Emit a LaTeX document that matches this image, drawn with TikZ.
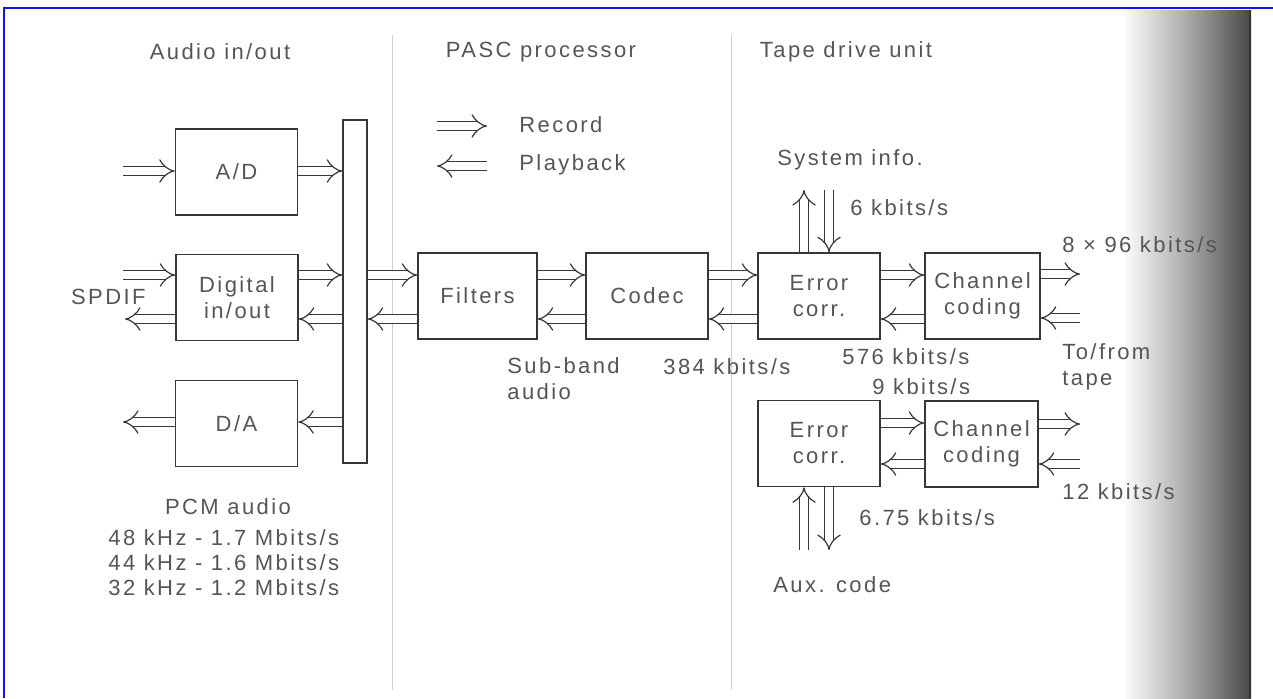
\documentclass[tikz,border=0pt]{standalone}
\usepackage{fontspec}
\setmainfont{Liberation Sans}[LetterSpace=11]
\usetikzlibrary{arrows.meta,positioning,calc}
\definecolor{InkGray}{RGB}{55,55,55}
\definecolor{TextGray}{RGB}{85,85,85}
\definecolor{RuleGray}{RGB}{205,205,205}
\definecolor{FrameBlue}{RGB}{20,20,235}
\tikzset{
  blk/.style={draw=InkGray,line width=0.8pt,minimum width=61pt,minimum height=43pt,
              align=center,text=TextGray,inner sep=1pt},
  busbar/.style={draw=InkGray,line width=0.8pt,minimum width=12pt,minimum height=171.5pt,
              inner sep=0pt},
  fat/.style={draw=InkGray,double=white,double distance=3.6pt,line width=0.6pt,
              -{Implies[length=4.5pt]}},
  lbl/.style={text=TextGray,inner sep=0pt,anchor=west,align=left},
  hdr/.style={text=TextGray,inner sep=0pt},
}

\begin{document}
\begin{tikzpicture}[x=0.5pt,y=-0.5pt,font=\fontsize{11}{13}\selectfont]
  \useasboundingbox (0,0) rectangle (1273,698);
  % page edge and frame
  \shade[left color=white,right color=black!72,middle color=black!33] (1122,10) rectangle (1251,698);
  \draw[black!80,line width=0.8pt] (1250,10) -- (1250,698);
  \draw[FrameBlue,line width=1.2pt] (4,698) -- (4,8) -- (1273,8);
  % section rules
  \draw[RuleGray,line width=0.5pt] (392,35) -- (392,690);
  \draw[RuleGray,line width=0.5pt] (731,35) -- (731,690);

  % headings
  \node[hdr] (hAudio) at (220,52) {Audio in/out};
  \node[hdr] (hPasc) at (541,52) {PASC processor};
  \node[hdr] (hTape) at (846,52) {Tape drive unit};

  % legend
  \coordinate (legA) at (437,126);
  \coordinate (legB) at (487,126);
  \coordinate (legC) at (437,166);
  \coordinate (legD) at (487,166);
  \draw[fat] (legA) -- (legB);
  \draw[fat] (legD) -- (legC);
  \node[lbl] (rec) at (519,125) {Record};
  \node[lbl] (play) at (519,165) {Playback};

  % blocks
  \node[blk] (ad) at (236.5,172) {A/D};
  \node[blk] (dio) at (237,297.5) {Digital\\in/out};
  \node[blk] (da) at (236.5,423.5) {D/A};
  \node[busbar] (bus) at (355,291.5) {};
  \node[blk,minimum width=59.5pt] (filt) at (477.5,296) {Filters};
  \node[blk] (codec) at (647,296) {Codec};
  \node[blk] (ec1) at (819,296) {Error\\corr.};
  \node[blk,minimum width=57.5pt] (cc1) at (982.5,296) {Channel\\coding};
  \node[blk] (ec2) at (819,443.5) {Error\\corr.};
  \node[blk,minimum width=56.5pt] (cc2) at (981.5,444) {Channel\\coding};

  % rows
  \coordinate (rF) at (0,275);
  \coordinate (rB) at (0,319);
  \coordinate (rF2) at (0,423);
  \coordinate (rB2) at (0,464);

  % free ends
  \coordinate (adin) at (123,171);
  \coordinate (dioin) at (123,275);
  \coordinate (dioout) at (125,319);
  \coordinate (daout) at (123,422);
  \coordinate (tape1) at (1080,274);
  \coordinate (tape2) at (1080,318);
  \coordinate (tape3) at (1080,424);
  \coordinate (tape4) at (1080,464);
  \coordinate (sysup) at (804,190);
  \coordinate (sysdn) at (829,190);
  \coordinate (auxup) at (804,550);
  \coordinate (auxdn) at (829,550);

  % audio in/out
  \draw[fat] (adin) -- (ad.west |- adin);
  \draw[fat] (ad.east |- adin) -- (bus.west |- adin);
  \draw[fat] (dioin) -- (dio.west |- dioin);
  \draw[fat] (dio.west |- dioout) -- (dioout);
  \draw[fat] (dio.east |- rF) -- (bus.west |- rF);
  \draw[fat] (bus.west |- rB) -- (dio.east |- rB);
  \draw[fat] (bus.west |- daout) -- (da.east |- daout);
  \draw[fat] (da.west |- daout) -- (daout);

  % PASC chain
  \draw[fat] (bus.east |- rF) -- (filt.west |- rF);
  \draw[fat] (filt.west |- rB) -- (bus.east |- rB);
  \draw[fat] (filt.east |- rF) -- (codec.west |- rF);
  \draw[fat] (codec.west |- rB) -- (filt.east |- rB);
  \draw[fat] (codec.east |- rF) -- (ec1.west |- rF);
  \draw[fat] (ec1.west |- rB) -- (codec.east |- rB);

  % tape drive
  \draw[fat] (ec1.east |- rF) -- (cc1.west |- rF);
  \draw[fat] (cc1.west |- rB) -- (ec1.east |- rB);
  \draw[fat] (cc1.east |- tape1) -- (tape1);
  \draw[fat] (tape2) -- (cc1.east |- tape2);
  \draw[fat] (ec2.east |- rF2) -- (cc2.west |- rF2);
  \draw[fat] (cc2.west |- rB2) -- (ec2.east |- rB2);
  \draw[fat] (cc2.east |- tape3) -- (tape3);
  \draw[fat] (tape4) -- (cc2.east |- tape4);
  \draw[fat] (ec1.north -| sysup) -- (sysup);
  \draw[fat] (sysdn) -- (ec1.north -| sysdn);
  \draw[fat] (auxup) -- (ec2.south -| auxup);
  \draw[fat] (ec2.south -| auxdn) -- (auxdn);

  % labels
  \node[lbl,anchor=east] (spdif) at (146,297) {SPDIF};
  \node[hdr] (pcm) at (228,507) {PCM audio};
  \node[lbl] (r48) at (108,538) {48 kHz - 1.7 Mbits/s};
  \node[lbl] (r44) at (108,563) {44 kHz - 1.6 Mbits/s};
  \node[lbl] (r32) at (108,588) {32 kHz - 1.2 Mbits/s};
  \node[lbl] (sub) at (507,379) {Sub-band\\audio};
  \node[lbl] (k384) at (663,367) {384 kbits/s};
  \node[lbl] (sys) at (777,160) {System info.};
  \node[lbl] (k6) at (850,208) {6 kbits/s};
  \node[lbl] (k768) at (1062,245) {8 × 96 kbits/s};
  \node[lbl] (k576) at (842,357) {576 kbits/s};
  \node[lbl] (k9) at (872,387) {9 kbits/s};
  \node[lbl] (tofrom) at (1062,367) {To/from\\tape};
  \node[lbl] (k12) at (1062,492) {12 kbits/s};
  \node[lbl] (k675) at (859,518) {6.75 kbits/s};
  \node[lbl] (aux) at (773,585) {Aux. code};
\end{tikzpicture}
\end{document}
